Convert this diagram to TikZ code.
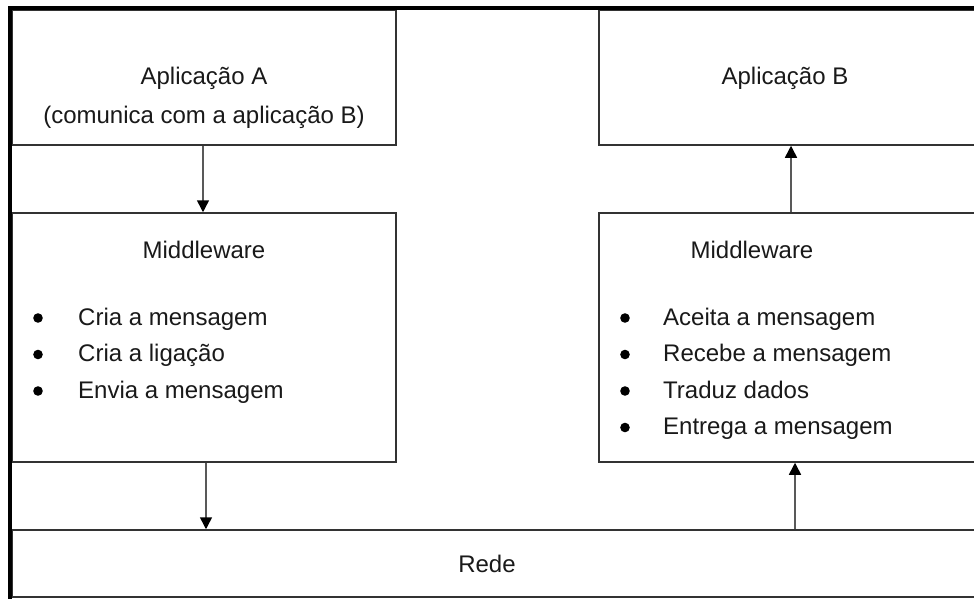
\documentclass[tikz,border=0pt]{standalone}
\usepackage{fontspec}
\setmainfont{Liberation Sans}
\usetikzlibrary{arrows.meta}
\tikzset{
  box/.style={draw=black!80, line width=1.5pt, fill=white, inner sep=0pt},
  lbl/.style={font=\fontsize{24}{29}\selectfont, inner sep=0pt, anchor=base, text=black!90},
  item/.style={lbl, anchor=base west},
  flow/.style={draw=black!65, line width=1.5pt, -{Triangle[width=12pt,length=12pt,black]}},
  frame/.style={line width=4pt, black},
}
\begin{document}
\begin{tikzpicture}[x=1pt,y=-1pt]
  \fill[white] (0,0) rectangle (974,599);
  \useasboundingbox (0,0) rectangle (974,599);

  % boxes
  \node[box, minimum width=384pt, minimum height=135pt] (appA) at (204,77.5) {};
  \node[box, minimum width=384pt, minimum height=135pt] (appB) at (791,77.5) {};
  \node[box, minimum width=384pt, minimum height=249pt] (mwA) at (204,337.5) {};
  \node[box, minimum width=384pt, minimum height=249pt] (mwB) at (791,337.5) {};
  \node[box, minimum width=975pt, minimum height=67pt] (net) at (499.5,563.5) {};

  % thick frame on the left and top
  \draw[frame] (10,600) -- (10,8.5) -- (980,8.5);

  % application texts
  \node[lbl] (tA1) at (204,85) {Aplicação A};
  \node[lbl] (tA2) at (204,124) {(comunica com a aplicação B)};
  \node[lbl] (tB) at (785,85) {Aplicação B};

  % middleware titles
  \node[lbl] (mA) at (204,258) {Middleware};
  \node[lbl] (mB) at (752,258) {Middleware};

  % left list
  \foreach \t [count=\i] in {Cria a mensagem, Cria a ligação, Envia a mensagem} {
    \fill (38,{325+(\i-1)*36.5-7}) circle (4.8pt);
    \node[item] (la\i) at (78,{325+(\i-1)*36.5}) {\t};
  }
  % right list
  \foreach \t [count=\i] in {Aceita a mensagem, Recebe a mensagem, Traduz dados, Entrega a mensagem} {
    \fill (625,{325+(\i-1)*36.5-7}) circle (4.8pt);
    \node[item] (lb\i) at (663,{325+(\i-1)*36.5}) {\t};
  }

  % network label
  \node[lbl] (tNet) at (487,572) {Rede};

  % connectors
  \draw[flow] ([xshift=-1pt]appA.south) -- ([xshift=-1pt]mwA.north);
  \draw[flow] ([xshift=2pt]mwA.south) -- ([xshift=2pt]mwA.south |- net.north);
  \draw[flow] (mwB.north) -- (appB.south);
  \draw[flow] ([xshift=4pt]mwB.south |- net.north) -- ([xshift=4pt]mwB.south);
\end{tikzpicture}
\end{document}
